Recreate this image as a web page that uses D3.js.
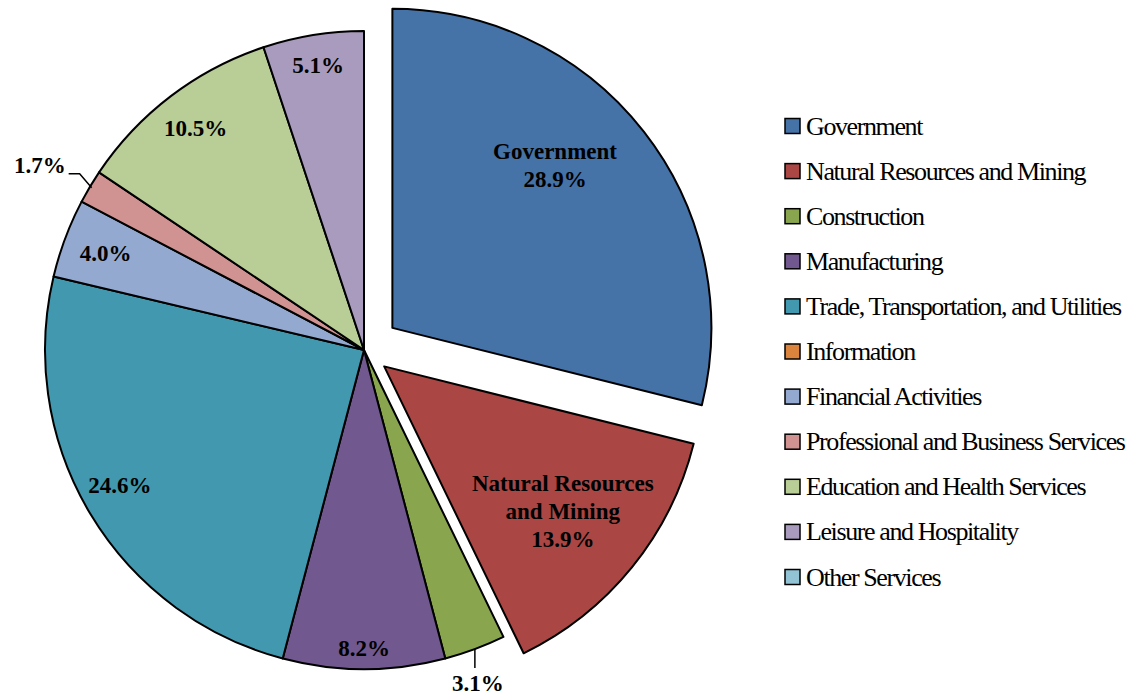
<!DOCTYPE html>
<html>
<head>
<meta charset="utf-8">
<script src="https://cdn.jsdelivr.net/npm/d3@7"></script>
<style>
  body { margin: 0; background: #fff; }
  svg { display: block; }
  text { font-family: "Liberation Serif", "Times New Roman", serif; fill: #000; }
</style>
</head>
<body>
<div id="vis"></div>
<script>
const width = 1133, height = 696;

// data (percent of total)
const categories = ["Government", "Natural Resources and Mining", "Construction", "Manufacturing",
  "Trade, Transportation, and Utilities", "Information", "Financial Activities",
  "Professional and Business Services", "Education and Health Services",
  "Leisure and Hospitality", "Other Services"];
const shares = [28.9, 13.9, 3.1, 8.2, 24.6, 0, 4.0, 1.7, 10.5, 5.1, 0];
const colors = ["#4572A7", "#AA4643", "#89A54E", "#71588F", "#4198AF", "#DB843D",
  "#93A9CF", "#D19392", "#B9CD96", "#A99BBD", "#92C3D5"];
const labelLines = [["Government"], ["Natural Resources", "and Mining"], [], [], [], [], [], [], [], [], []];

// layout
const cx = 364, cy = 350, radius = 319;
const explode = [36, 26, 0, 0, 0, 0, 0, 0, 0, 0, 0];
// [angle override in degrees or null, distance from slice centre]
const labelSpots = [[45, 230], [null, 230], null, [null, 298], [241, 279], null,
  [null, 276], null, [null, 278], [null, 288], null];
const labelSize = 23;

const svg = d3.select("#vis").append("svg")
  .attr("width", width).attr("height", height);

const pie = d3.pie().sort(null).value(d => d.v);
const arcs = pie(shares.map((v, i) => ({v, i})));
const arc = d3.arc().innerRadius(0).outerRadius(radius);

const mid = d => (d.startAngle + d.endAngle) / 2;
const polar = (a, r) => [Math.sin(a) * r, -Math.cos(a) * r];

const g = svg.append("g").attr("transform", `translate(${cx},${cy})`);

const slices = g.selectAll("g.slice")
  .data(arcs.filter(d => d.data.v > 0))
  .enter().append("g")
  .attr("class", "slice")
  .attr("transform", d => {
    const [x, y] = polar(mid(d), explode[d.data.i]);
    return `translate(${x},${y})`;
  });

slices.append("path")
  .attr("d", arc)
  .attr("fill", d => colors[d.data.i])
  .attr("stroke", "#000")
  .attr("stroke-width", 2)
  .attr("stroke-linejoin", "round");

// inside labels
slices.filter(d => labelSpots[d.data.i]).each(function(d) {
  const spot = labelSpots[d.data.i];
  const a = spot[0] === null ? mid(d) : spot[0] * Math.PI / 180;
  const [x, y] = polar(a, spot[1]);
  const lines = labelLines[d.data.i].concat([d.data.v.toFixed(1) + "%"]);
  const lh = 28;
  const t = d3.select(this).append("text")
    .attr("text-anchor", "middle")
    .attr("font-size", labelSize)
    .attr("font-weight", "bold");
  lines.forEach((s, k) => {
    t.append("tspan")
      .attr("x", x)
      .attr("y", y + (k - (lines.length - 1) / 2) * lh)
      .attr("dominant-baseline", "central")
      .text(s);
  });
});

// outside label for Construction (leader straight down)
{
  const d = arcs[2];
  const [x, y] = polar(mid(d), radius);
  g.append("path")
    .attr("d", `M${x},${y}L${x},${y + 19}`)
    .attr("stroke", "#000").attr("stroke-width", 1.5).attr("fill", "none");
  g.append("text")
    .attr("x", x + 3).attr("y", y + 34)
    .attr("text-anchor", "middle").attr("dominant-baseline", "central")
    .attr("font-size", labelSize).attr("font-weight", "bold")
    .text(d.data.v.toFixed(1) + "%");
}

// outside label for Professional and Business Services (elbow leader)
{
  const d = arcs[7];
  const [x, y] = polar(mid(d), radius - 2);
  g.append("path")
    .attr("d", `M${x},${y}L${x - 12},${y - 14}L${x - 23},${y - 14}`)
    .attr("stroke", "#000").attr("stroke-width", 1.5).attr("fill", "none");
  g.append("text")
    .attr("x", x - 26).attr("y", y - 22)
    .attr("text-anchor", "end").attr("dominant-baseline", "central")
    .attr("font-size", labelSize).attr("font-weight", "bold")
    .text(d.data.v.toFixed(1) + "%");
}

// legend
const legendY = d3.scalePoint().domain(d3.range(categories.length)).range([126, 577]);
const legend = svg.append("g").attr("transform", "translate(785,0)");
const items = legend.selectAll("g.item")
  .data(categories)
  .enter().append("g")
  .attr("class", "item")
  .attr("transform", (d, i) => `translate(0,${legendY(i)})`);

items.append("rect")
  .attr("x", 0).attr("y", -7.5)
  .attr("width", 15).attr("height", 15)
  .attr("fill", (d, i) => colors[i])
  .attr("stroke", "#000").attr("stroke-width", 1.5);

items.append("text")
  .attr("x", 21).attr("y", 0)
  .attr("dominant-baseline", "central")
  .attr("font-size", 26)
  .attr("letter-spacing", -1.4)
  .text(d => d);
</script>
</body>
</html>
